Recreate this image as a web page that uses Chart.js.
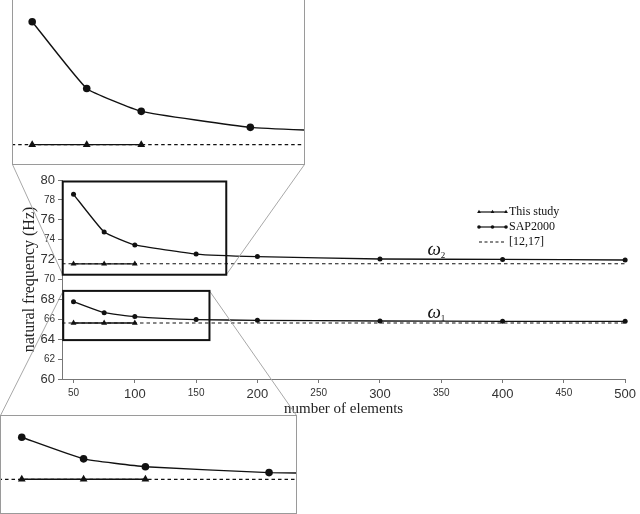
<!DOCTYPE html>
<html>
<head>
<meta charset="utf-8">
<script src="https://cdn.jsdelivr.net/npm/chart.js@4"></script>
<style>
  html, body { margin: 0; padding: 0; background: #fff; }
  #wrap { position: relative; width: 640px; height: 514px; overflow: hidden; }
  #main { position: absolute; left: 0; top: 0; }
  .inset { position: absolute; border: 1px solid #9a9a9a; background: #fff; }
  #topBox { left: 12px; top: -2px; }
  #botBox { left: 0px; top: 415px; }
  .inset canvas { display: block; }
</style>
</head>
<body>
<div id="wrap">
  <canvas id="main" width="640" height="514"></canvas>
  <div class="inset" id="topBox"><canvas id="topInset" width="291" height="165"></canvas></div>
  <div class="inset" id="botBox"><canvas id="botInset" width="295" height="97"></canvas></div>
</div>
<script>
// data
const elements = [50, 75, 100, 150, 200, 300, 400, 500];
const sapOmega2 = [78.56, 74.77, 73.47, 72.56, 72.3, 72.06, 72.02, 71.96];
const sapOmega1 = [67.77, 66.67, 66.27, 65.97, 65.9, 65.83, 65.8, 65.8];
const studyElements = [50, 75, 100];
const studyOmega2 = [71.58, 71.58, 71.58];
const studyOmega1 = [65.63, 65.63, 65.63];
const refOmega2 = 71.58;
const refOmega1 = 65.63;
const seriesNames = ["This study", "SAP2000", "[12,17]"];
const xTicks = [50, 100, 150, 200, 250, 300, 350, 400, 450, 500];
const yTicks = [60, 62, 64, 66, 68, 70, 72, 74, 76, 78, 80];

const X_MIN = 40.6, X_MAX = 500;
// zoomed windows (also the black boxes on the main plot)
const topView = { xMin: 41.2, xMax: 174.6, yMin: 70.48, yMax: 79.85 };
const botView = { xMin: 41.6, xMax: 160.9, yMin: 63.91, yMax: 68.855 };

const INK = "#111";
const SERIF = "'Liberation Serif', 'Times New Roman', serif";
const SANS = "'Liberation Sans', Arial, sans-serif";

const pts = (xs, ys) => xs.map((x, i) => ({ x: x, y: ys[i] }));

function buildDatasets(circleR, triR, lw, clip) {
  const sap = (label, ys) => ({
    label: label, data: pts(elements, ys), clip: clip,
    borderColor: INK, backgroundColor: INK, borderWidth: lw,
    pointStyle: "circle", pointRadius: circleR, pointBorderWidth: 0,
    tension: 0.12
  });
  const study = (label, ys) => ({
    label: label, data: pts(studyElements, ys), clip: clip,
    borderColor: INK, backgroundColor: INK, borderWidth: lw,
    pointStyle: "triangle", pointRadius: triR, pointBorderWidth: 0
  });
  const ref = (label, v) => ({
    label: label, data: pts([X_MIN, X_MAX], [v, v]), clip: clip,
    borderColor: INK, borderWidth: lw * 0.9, borderDash: [3.5, 3],
    pointRadius: 0
  });
  return [
    ref(seriesNames[2], refOmega2), ref(seriesNames[2], refOmega1),
    sap(seriesNames[1], sapOmega2), sap(seriesNames[1], sapOmega1),
    study(seriesNames[0], studyOmega2), study(seriesNames[0], studyOmega1)
  ];
}

function marker(ctx, style, x, y, r) {
  ctx.beginPath();
  if (style === "circle") {
    ctx.arc(x, y, r, 0, Math.PI * 2);
  } else {
    ctx.moveTo(x, y - r);
    ctx.lineTo(x + r * 0.866, y + r * 0.5);
    ctx.lineTo(x - r * 0.866, y + r * 0.5);
    ctx.closePath();
  }
  ctx.fill();
}

function boxOf(id) {
  const w = document.getElementById("wrap").getBoundingClientRect();
  const b = document.getElementById(id).getBoundingClientRect();
  return { left: b.left - w.left, top: b.top - w.top, right: b.right - w.left, bottom: b.bottom - w.top };
}

const overlay = {
  id: "overlay",
  afterDraw(chart) {
    const { ctx, scales: { x, y } } = chart;
    const rect = v => ({
      l: x.getPixelForValue(v.xMin), r: x.getPixelForValue(v.xMax),
      t: y.getPixelForValue(v.yMax), b: y.getPixelForValue(v.yMin)
    });
    const rt = rect(topView), rb = rect(botView);
    ctx.save();

    // connector lines to the zoomed panels
    const tb = boxOf("topBox"), bb = boxOf("botBox");
    ctx.strokeStyle = "#a8a8a8";
    ctx.lineWidth = 1;
    ctx.beginPath();
    ctx.moveTo(tb.left + 0.5, tb.bottom - 0.5); ctx.lineTo(rt.l, rt.b);
    ctx.moveTo(tb.right - 0.5, tb.bottom - 0.5); ctx.lineTo(rt.r, rt.b);
    ctx.moveTo(bb.left + 0.5, bb.top + 0.5); ctx.lineTo(rb.l, rb.t);
    ctx.moveTo(bb.right - 0.5, bb.top + 0.5); ctx.lineTo(rb.r, rb.t);
    ctx.stroke();

    // zoom boxes
    ctx.strokeStyle = INK;
    ctx.lineWidth = 2;
    [rt, rb].forEach(r => ctx.strokeRect(r.l, r.t, r.r - r.l, r.b - r.t));

    // legend
    const lx0 = 479, lx1 = 506, ly = 212, step = 15;
    ctx.font = "12px " + SERIF;
    ctx.textBaseline = "middle";
    ctx.fillStyle = INK;
    seriesNames.forEach((name, i) => {
      const yy = ly + i * step;
      ctx.beginPath();
      ctx.lineWidth = 1.2;
      ctx.setLineDash(i === 2 ? [3, 2.5] : []);
      ctx.moveTo(lx0, yy); ctx.lineTo(lx1, yy);
      ctx.stroke();
      ctx.setLineDash([]);
      if (i < 2) {
        const st = i === 0 ? "triangle" : "circle";
        [lx0, (lx0 + lx1) / 2, lx1].forEach(px => marker(ctx, st, px, yy, i === 0 ? 2.2 : 1.8));
      }
      ctx.fillText(name, lx1 + 3, yy);
    });

    // mode labels
    [["2", 72.5], ["1", 66.18]].forEach(([sub, v]) => {
      const px = x.getPixelForValue(338.7), py = y.getPixelForValue(v);
      ctx.textBaseline = "alphabetic";
      ctx.font = "italic 19px " + SERIF;
      ctx.fillText("\u03c9", px, py);
      const w = ctx.measureText("\u03c9").width;
      ctx.font = "9px " + SERIF;
      ctx.fillText(sub, px + w, py + 3);
    });
    ctx.restore();
  }
};

new Chart(document.getElementById("main"), {
  type: "line",
  data: { datasets: buildDatasets(2.5, 3.4, 1.3, false) },
  options: {
    responsive: false, animation: false, events: [],
    layout: { autoPadding: false, padding: { left: 0, top: 180, right: 11, bottom: 96 } },
    plugins: { legend: { display: false }, tooltip: { enabled: false } },
    scales: {
      x: {
        type: "linear", min: X_MIN, max: X_MAX,
        afterBuildTicks: s => { s.ticks = xTicks.map(v => ({ value: v })); },
        afterFit: s => { s.height = 39; },
        grid: { drawOnChartArea: false, tickLength: 4, color: "#777" },
        border: { color: "#777" },
        ticks: {
          padding: 4, color: "#333", maxRotation: 0, autoSkip: false,
          font: c => ({ family: SANS, size: c.tick && c.tick.value % 100 === 0 ? 13 : 10 })
        },
        title: { display: true, text: "number of elements", color: "#222",
                 font: { family: SERIF, size: 15 }, padding: { top: 0, bottom: 0 } }
      },
      y: {
        type: "linear", min: 60, max: 80,
        afterBuildTicks: s => { s.ticks = yTicks.map(v => ({ value: v })); },
        afterFit: s => { s.width = 62; },
        grid: { drawOnChartArea: false, tickLength: 4, color: "#777" },
        border: { color: "#777" },
        ticks: {
          padding: 3, color: "#333",
          font: c => ({ family: SANS, size: c.tick && c.tick.value % 4 === 0 ? 13 : 10 })
        },
        title: { display: true, text: "natural frequency (Hz)", color: "#222",
                 font: { family: SERIF, size: 16 }, padding: { top: 20, bottom: 0 } }
      }
    }
  },
  plugins: [overlay]
});

function insetChart(id, view) {
  return new Chart(document.getElementById(id), {
    type: "line",
    data: { datasets: buildDatasets(3.8, 4.5, 1.4, 0) },
    options: {
      responsive: false, animation: false, events: [],
      layout: { autoPadding: false, padding: 0 },
      plugins: { legend: { display: false }, tooltip: { enabled: false } },
      scales: {
        x: { type: "linear", display: false, min: view.xMin, max: view.xMax },
        y: { type: "linear", display: false, min: view.yMin, max: view.yMax }
      }
    }
  });
}
insetChart("topInset", topView);
insetChart("botInset", botView);
</script>
</body>
</html>
